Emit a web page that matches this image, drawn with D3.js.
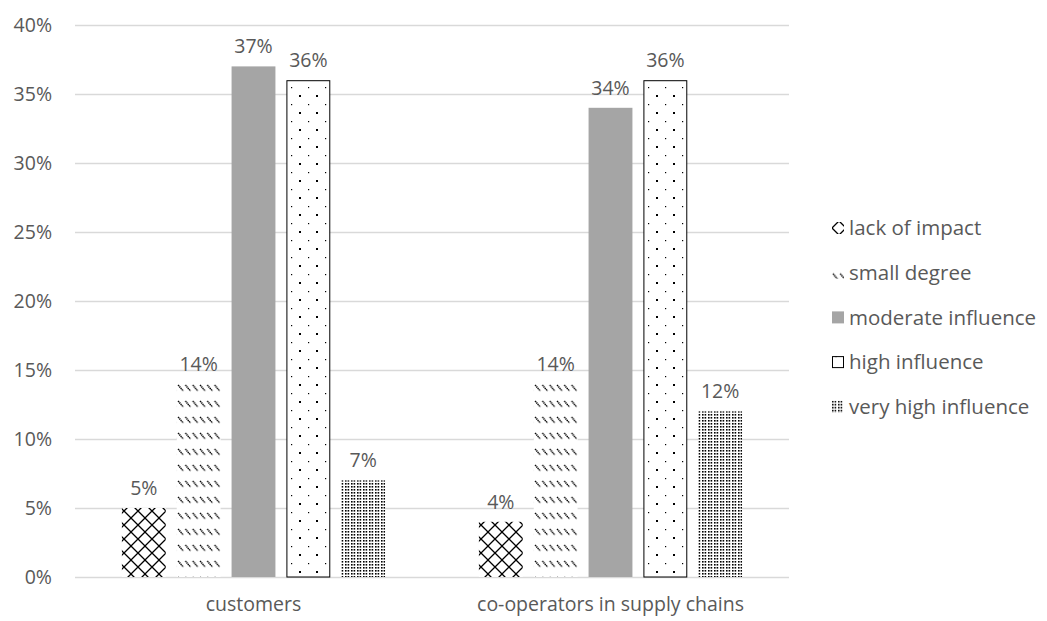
<!DOCTYPE html>
<html>
<head>
<meta charset="utf-8">
<script src="https://cdn.jsdelivr.net/npm/d3@7/dist/d3.min.js"></script>
<style>
  html, body { margin: 0; padding: 0; background: #fff; }
  svg { display: block; }
  text { font-family: "Open Sans", "Noto Sans", sans-serif; fill: #595959; }
</style>
</head>
<body>
<svg id="chart" width="1047" height="621"></svg>
<script>
// Categories, series and values (percent)
const categories = ["customers", "co-operators in supply chains"];
const seriesNames = ["lack of impact", "small degree", "moderate influence", "high influence", "very high influence"];
const lackOfImpact = [5, 4];
const smallDegree = [14, 14];
const moderateInfluence = [37, 34];
const highInfluence = [36, 36];
const veryHighInfluence = [7, 12];
const yTicks = [0, 5, 10, 15, 20, 25, 30, 35, 40];

const seriesValues = [lackOfImpact, smallDegree, moderateInfluence, highInfluence, veryHighInfluence];

const width = 1047, height = 621;
const margin = { top: 25, right: 258, bottom: 44, left: 75 };
const fontSize = 19.5;
const svg = d3.select("#chart");

// Fill patterns
const defs = svg.append("defs");

// diagonal cross-hatch
const pCross = defs.append("pattern").attr("id", "p-cross")
  .attr("patternUnits", "userSpaceOnUse").attr("width", 14).attr("height", 14);
pCross.append("rect").attr("width", 14).attr("height", 14).attr("fill", "#fff");
pCross.append("path").attr("d", "M0,0L14,14M14,0L0,14")
  .attr("stroke", "#000").attr("stroke-width", 1.3).attr("fill", "none");

// dashed downward diagonals
const pDash = defs.append("pattern").attr("id", "p-dash")
  .attr("patternUnits", "userSpaceOnUse").attr("width", 7.3).attr("height", 16);
pDash.append("rect").attr("width", 7.3).attr("height", 16).attr("fill", "#fff");
pDash.append("path").attr("d", "M1,1L6,7")
  .attr("stroke", "#000").attr("stroke-width", 1.5).attr("stroke-dasharray", "1.3,0.6").attr("fill", "none");

// sparse staggered dots
const pDots = defs.append("pattern").attr("id", "p-dots")
  .attr("patternUnits", "userSpaceOnUse").attr("width", 17).attr("height", 17);
pDots.append("rect").attr("width", 17).attr("height", 17).attr("fill", "#fff");
pDots.append("rect").attr("x", 3).attr("y", 10).attr("width", 2).attr("height", 2).attr("fill", "#000");
pDots.append("rect").attr("x", 12).attr("y", 2).attr("width", 1.2).attr("height", 1.2).attr("fill", "#000");

// dense dotted fill
const pDense = defs.append("pattern").attr("id", "p-dense")
  .attr("patternUnits", "userSpaceOnUse").attr("width", 6).attr("height", 3);
pDense.append("rect").attr("width", 6).attr("height", 3).attr("fill", "#fff");
pDense.append("rect").attr("x", 0).attr("y", 0).attr("width", 1.6).attr("height", 1.6).attr("fill", "#000");
pDense.append("rect").attr("x", 2.6).attr("y", 0).attr("width", 1.6).attr("height", 1.6).attr("fill", "#000");

const fills = ["url(#p-cross)", "url(#p-dash)", "#a5a5a5", "url(#p-dots)", "url(#p-dense)"];
const strokes = ["none", "none", "none", "#000", "none"];

// Scales
const x0 = d3.scaleBand().domain(categories)
  .range([margin.left, width - margin.right]).paddingInner(0).paddingOuter(0);
const x1 = d3.scaleBand().domain(d3.range(seriesNames.length))
  .range([0, x0.bandwidth()]).paddingInner(0.2).paddingOuter(0.855);
const y = d3.scaleLinear().domain([0, 40]).range([height - margin.bottom, margin.top]);

// Gridlines
svg.append("g")
  .selectAll("line").data(yTicks).join("line")
  .attr("x1", margin.left).attr("x2", width - margin.right)
  .attr("y1", d => Math.round(y(d)) + 0.5).attr("y2", d => Math.round(y(d)) + 0.5)
  .attr("stroke", "#d9d9d9").attr("stroke-width", 1.5);

// Y axis labels
const yAxis = d3.axisLeft(y).tickValues(yTicks).tickSize(0).tickPadding(0)
  .tickFormat(d => d + "%");
svg.append("g").attr("transform", `translate(${margin.left - 23},0)`)
  .call(yAxis)
  .call(g => g.select(".domain").remove())
  .call(g => g.selectAll("text").attr("font-size", fontSize).attr("fill", "#595959")
    .style("font-family", "\"Open Sans\", sans-serif"));

// X axis labels
const xAxis = d3.axisBottom(x0).tickSize(0).tickPadding(0);
svg.append("g").attr("transform", `translate(0,${height - margin.bottom + 20})`)
  .call(xAxis)
  .call(g => g.select(".domain").remove())
  .call(g => g.selectAll("text").attr("font-size", fontSize).attr("fill", "#595959")
    .style("font-family", "\"Open Sans\", sans-serif"));

// Bars with value labels
const groups = svg.append("g").selectAll("g").data(categories).join("g")
  .attr("transform", d => `translate(${x0(d)},0)`);

groups.each(function(cat, ci) {
  const g = d3.select(this);
  seriesValues.forEach((vals, si) => {
    const v = vals[ci];
    const bx = x1(si), bw = x1.bandwidth();
    const outlined = strokes[si] !== "none";
    g.append("rect")
      .attr("x", bx + (outlined ? 0.5 : 0))
      .attr("y", y(v) + (outlined ? 0.5 : 0))
      .attr("width", bw - (outlined ? 1 : 0))
      .attr("height", y(0) - y(v) - (outlined ? 0.5 : 0))
      .attr("fill", fills[si])
      .attr("stroke", strokes[si]).attr("stroke-width", 1);
    g.append("text")
      .attr("x", bx + bw / 2).attr("y", y(v) - 13)
      .attr("text-anchor", "middle").attr("font-size", fontSize)
      .text(v + "%");
  });
});

// Legend
const legend = svg.append("g").attr("transform", "translate(832,228)");
const item = legend.selectAll("g").data(seriesNames).join("g")
  .attr("transform", (d, i) => `translate(0,${i * 44.7})`);
item.append("rect")
  .attr("x", (d, i) => strokes[i] !== "none" ? 0.5 : 0)
  .attr("y", (d, i) => strokes[i] !== "none" ? -5.5 : -6)
  .attr("width", (d, i) => strokes[i] !== "none" ? 11 : 12)
  .attr("height", (d, i) => strokes[i] !== "none" ? 11 : 12)
  .attr("fill", (d, i) => fills[i])
  .attr("stroke", (d, i) => strokes[i]).attr("stroke-width", 1);
item.append("text")
  .attr("x", 17).attr("y", 0).attr("dy", "0.35em")
  .attr("font-size", 20.5)
  .text(d => d);
</script>
</body>
</html>
